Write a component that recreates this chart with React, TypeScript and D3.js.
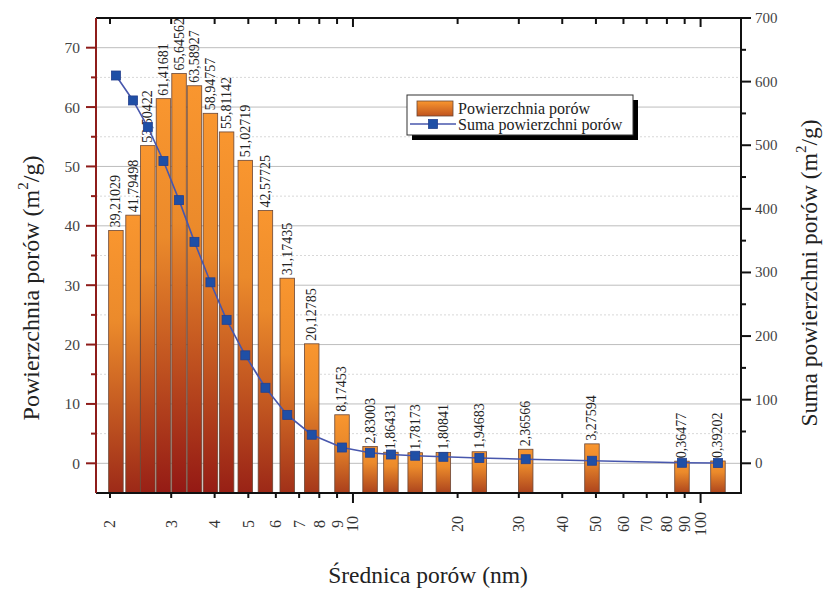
import React from "react";
import * as d3 from "d3";

// pore diameter (nm)
const diameters = [2.08, 2.33, 2.57, 2.85, 3.16, 3.5, 3.89, 4.33, 4.9, 5.6, 6.47, 7.61, 9.3, 11.2, 12.86, 15.1, 18.2, 23.1, 31.4, 48.7, 88.4, 112.2];
// Powierzchnia porów (m2/g)
const surface = [39.21029, 41.79498, 53.50422, 61.41681, 65.64562, 63.58927, 58.94757, 55.81142, 51.02719, 42.57725, 31.17435, 20.12785, 8.17453, 2.83003, 1.86431, 1.78173, 1.80841, 1.94683, 2.36566, 3.27594, 0.36477, 0.39202];
// Suma powierzchni porów (m2/g)
const cumulative = [609.6, 570.4, 528.6, 475.1, 413.7, 348.1, 284.5, 225.5, 169.7, 118.7, 76.1, 44.9, 24.8, 16.6, 13.8, 11.9, 10.2, 8.4, 6.4, 4.0, 0.8, 0.4];

const xTicks = [2, 3, 4, 5, 6, 7, 8, 9, 10, 20, 30, 40, 50, 60, 70, 80, 90, 100];
const leftTicks = [0, 10, 20, 30, 40, 50, 60, 70];
const leftMinor = [5, 15, 25, 35, 45, 55, 65];
const rightTicks = [0, 100, 200, 300, 400, 500, 600, 700];
const rightMinor = [50, 150, 250, 350, 450, 550, 650];

const W = 831;
const H = 590;
const plot = { left: 96, right: 741, top: 18, bottom: 493 };
const FONT = "'Liberation Serif', 'DejaVu Serif', serif";
const AXIS_RED = "#8e1c1a";

export default function App() {
  const x = d3.scaleLog().domain([1.823, 130.7]).range([plot.left, plot.right]);
  const yL = d3.scaleLinear().domain([-5, 75]).range([plot.bottom, plot.top]);
  const yR = d3.scaleLinear().domain([-46.7, 700]).range([plot.bottom, plot.top]);
  const barW = 14.5;
  const maxV = d3.max(surface) as number;
  const bottomCol = d3.scaleLinear<string>().domain([0, maxV]).range(["#ad451d", "#931814"]);

  const line = d3
    .line<number>()
    .x((_, i) => x(diameters[i]))
    .y((d) => yR(d));

  return (
    <svg width={W} height={H} style={{ position: "absolute", left: 0, top: 0, background: "#fff" }} fontFamily={FONT}>
      <defs>
        {surface.map((v, i) => (
          <linearGradient key={i} id={`bg${i}`} x1="0" y1="0" x2="0" y2="1">
            <stop offset="0" stopColor="#f9962f" />
            <stop offset="0.35" stopColor="#eb8a2b" />
            <stop offset="1" stopColor={bottomCol(v)} />
          </linearGradient>
        ))}
        <linearGradient id="legGrad" x1="0" y1="0" x2="0" y2="1">
          <stop offset="0" stopColor="#f9962f" />
          <stop offset="1" stopColor="#c0541f" />
        </linearGradient>
      </defs>

      {/* grid */}
      {leftMinor.map((t) => (
        <line key={"gm" + t} x1={plot.left} x2={plot.right} y1={yL(t)} y2={yL(t)} stroke="#d8d8d8" strokeDasharray="2,2" strokeWidth={1} />
      ))}
      {leftTicks.map((t) => (
        <line key={"g" + t} x1={plot.left} x2={plot.right} y1={yL(t)} y2={yL(t)} stroke="#bdbdbd" strokeWidth={1} />
      ))}

      {/* bars */}
      {surface.map((v, i) => (
        <rect
          key={"b" + i}
          x={x(diameters[i]) - barW / 2}
          y={yL(v)}
          width={barW}
          height={plot.bottom - yL(v)}
          fill={`url(#bg${i})`}
          stroke="#6a4636"
          strokeWidth={0.8}
        />
      ))}

      {/* bar labels */}
      {surface.map((v, i) => {
        const cx = x(diameters[i]);
        const ty = yL(v) - 3;
        return (
          <text
            key={"l" + i}
            x={cx}
            y={ty}
            transform={`rotate(-90, ${cx}, ${ty})`}
            fontSize={14}
            dominantBaseline="central"
            fill="#222"
          >
            {v.toFixed(5).replace(".", ",")}
          </text>
        );
      })}

      {/* cumulative line */}
      <path d={line(cumulative) || ""} fill="none" stroke="#4857ad" strokeWidth={1.6} />
      {cumulative.map((v, i) => (
        <rect key={"m" + i} x={x(diameters[i]) - 4.5} y={yR(v) - 4.5} width={9} height={9} fill="#1f4fa6" stroke="#23408e" strokeWidth={0.8} />
      ))}

      {/* frame: top */}
      <line x1={plot.left} x2={plot.right} y1={plot.top} y2={plot.top} stroke="#111" strokeWidth={2} />
      {xTicks.map((t) => (
        <line key={"tt" + t} x1={x(t)} x2={x(t)} y1={plot.top} y2={plot.top + (t === 10 || t === 100 ? 9 : 6)} stroke="#111" strokeWidth={2} />
      ))}

      {/* bottom axis */}
      <line x1={plot.left} x2={plot.right + 1} y1={plot.bottom} y2={plot.bottom} stroke="#111" strokeWidth={2} />
      {xTicks.map((t) => (
        <g key={"bt" + t}>
          <line x1={x(t)} x2={x(t)} y1={plot.bottom} y2={plot.bottom + (t === 10 || t === 100 ? 10 : 5)} stroke="#111" strokeWidth={2} />
          <text
            x={x(t)}
            y={524}
            transform={`rotate(-90, ${x(t)}, 524)`}
            textAnchor="middle"
            dominantBaseline="central"
            fontSize={16}
            fill="#333"
          >
            {t}
          </text>
        </g>
      ))}

      {/* left axis */}
      <line x1={plot.left} x2={plot.left} y1={plot.top} y2={plot.bottom} stroke={AXIS_RED} strokeWidth={2} />
      {leftTicks.map((t) => (
        <g key={"lt" + t}>
          <line x1={plot.left - 10} x2={plot.left} y1={yL(t)} y2={yL(t)} stroke={AXIS_RED} strokeWidth={2} />
          <text x={80} y={yL(t)} textAnchor="end" dominantBaseline="central" fontSize={15.5} fill="#444">
            {t}
          </text>
        </g>
      ))}
      {leftMinor.map((t) => (
        <line key={"lm" + t} x1={plot.left - 5} x2={plot.left} y1={yL(t)} y2={yL(t)} stroke={AXIS_RED} strokeWidth={2} />
      ))}

      {/* right axis */}
      <line x1={plot.right} x2={plot.right} y1={plot.top - 1} y2={plot.bottom + 1} stroke="#111" strokeWidth={2} />
      {rightTicks.map((t) => (
        <g key={"rt" + t}>
          <line x1={plot.right} x2={plot.right + 10} y1={yR(t)} y2={yR(t)} stroke="#111" strokeWidth={2} />
          <text x={755} y={yR(t)} dominantBaseline="central" fontSize={15} fill="#444">
            {t}
          </text>
        </g>
      ))}
      {rightMinor.map((t) => (
        <line key={"rm" + t} x1={plot.right} x2={plot.right + 5} y1={yR(t)} y2={yR(t)} stroke="#111" strokeWidth={2} />
      ))}

      {/* axis titles */}
      <text x={428} y={583} textAnchor="middle" fontSize={23.5} fill="#222">
        Średnica porów (nm)
      </text>
      <text x={31} y={288} transform="rotate(-90, 31, 288)" textAnchor="middle" dominantBaseline="central" fontSize={24} fill="#222">
        Powierzchnia porów (m<tspan baselineShift="super" fontSize={15}>2</tspan>/g)
      </text>
      <text x={809} y={273} transform="rotate(-90, 809, 273)" textAnchor="middle" dominantBaseline="central" fontSize={23.5} fill="#222">
        Suma powierzchni porów (m<tspan baselineShift="super" fontSize={15}>2</tspan>/g)
      </text>

      {/* legend */}
      <rect x={412} y={100} width={226} height={40} fill="#000" />
      <rect x={407} y={95} width={226} height={40} fill="#fff" stroke="#333" strokeWidth={1} />
      <rect x={417} y={101} width={36} height={15} fill="url(#legGrad)" stroke="#6a4636" strokeWidth={0.8} />
      <text x={458} y={114} fontSize={16} fill="#222">
        Powierzchnia porów
      </text>
      <line x1={410} x2={456} y1={124} y2={124} stroke="#4857ad" strokeWidth={1.6} />
      <rect x={428.5} y={119.5} width={9} height={9} fill="#1f4fa6" stroke="#23408e" strokeWidth={0.8} />
      <text x={458} y={129.5} fontSize={16} fill="#222">
        Suma powierzchni porów
      </text>
    </svg>
  );
}
